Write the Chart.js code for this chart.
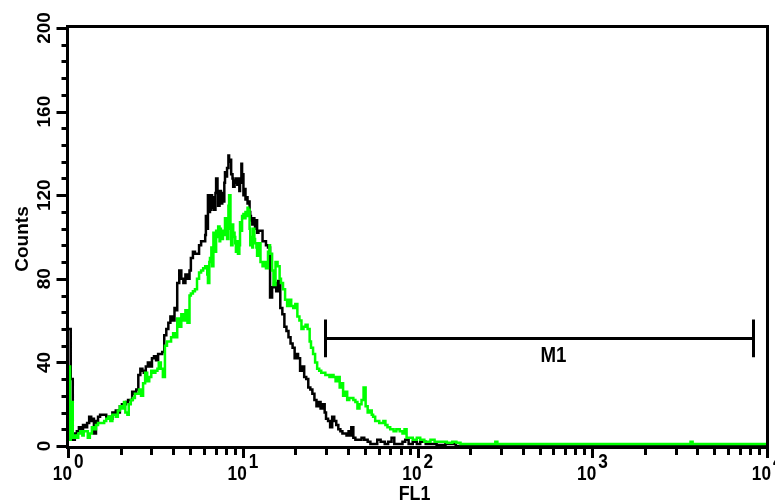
<!DOCTYPE html>
<html>
<head>
<meta charset="utf-8">
<script src="https://cdn.jsdelivr.net/npm/chart.js@4.4.0/dist/chart.umd.min.js"></script>
<style>
html,body{margin:0;padding:0;background:#fff;overflow:hidden;}
canvas{display:block;}
</style>
</head>
<body>
<canvas id="c" width="775" height="502"></canvas>
<script>
// ---- Data ----
const channelsPerDecade = 256;          // 1024 channels over 4 log decades
const xDecades = [0, 1, 2, 3, 4];
const xTickBase = ['10', '10', '10', '10', '10'];
const xTickExp = ['0', '1', '2', '3', '4'];
const yTickValues = [0, 40, 80, 120, 160, 200];
const yTickLabels = ['0', '40', '80', '120', '160', '200'];
const yMinorStep = 8;
const xAxisLabel = 'FL1';
const yAxisLabel = 'Counts';
const markerLabel = 'M1';
const markerRange = [29.6, 8320];
const markerLevel = 51.5;

const blackChannel = [
  0,4,7,10,13,16,19,22,25,28,
  31,34,37,38,41,44,47,50,53,56,
  59,62,65,67,70,73,76,79,82,85,
  88,91,94,97,100,103,106,109,111,114,
  117,120,123,126,129,132,135,138,141,144,
  147,150,153,156,158,160,163,166,169,172,
  175,178,180,183,186,189,192,195,198,201,
  202,204,205,207,208,210,211,213,214,216,
  217,219,220,222,223,224,226,227,229,230,
  232,233,235,236,238,239,241,242,244,245,
  246,248,249,251,252,254,255,257,258,260,
  261,263,264,266,267,268,270,271,273,274,
  276,277,279,282,285,288,290,293,296,299,
  302,305,308,311,314,317,320,323,326,329,
  332,334,337,340,343,346,349,352,355,358,
  361,364,367,370,373,376,378,381,384,387,
  390,393,396,399,402,405,408,411,414,415,
  418,421,425,430,434,439,443,449,453,458,
  464,469,474,478,484,490,494,499,505,511,
  516,524,531,540,553,568,1024
];
const blackCounts = [
  56,32,3,6,7,9,8,10,9,11,
  14,12,13,6,12,14,15,15,15,14,
  14,13,16,15,17,16,19,20,20,21,
  22,22,26,25,27,34,37,36,35,38,
  40,38,42,43,41,44,44,45,53,56,
  59,62,60,66,65,78,84,80,78,82,
  80,84,90,93,92,92,96,98,98,101,
  110,104,120,112,113,120,114,119,113,121,
  128,122,115,117,122,116,121,117,126,131,
  129,133,139,136,137,130,128,124,127,126,
  128,125,128,122,126,135,130,120,123,118,
  119,116,117,112,110,108,106,109,106,104,
  108,102,103,103,98,98,96,95,71,76,
  78,74,79,66,63,57,55,52,49,47,
  42,44,42,36,38,33,32,28,27,25,
  22,19,21,18,20,16,13,12,9,14,
  12,10,8,7,6,6,5,7,5,9,
  4,3,3,4,3,2,1,1,3,2,
  1,2,4,1,1,2,3,1,2,1,
  2,1,1,0.5,1,0,0
];

const greenChannel = [
  0,3,4,7,9,12,15,18,21,23,
  26,29,32,35,38,41,44,47,50,53,
  56,59,62,65,67,70,73,76,79,82,
  84,87,89,92,95,98,101,104,107,110,
  113,116,119,122,125,128,131,133,136,139,
  142,145,148,151,154,157,160,163,166,169,
  172,175,178,180,183,186,189,192,195,198,
  201,204,205,207,208,210,211,213,214,216,
  217,219,220,222,223,224,226,227,229,230,
  232,233,235,236,238,239,241,242,244,245,
  246,248,249,251,252,254,255,257,258,260,
  261,263,264,266,267,268,270,271,273,274,
  276,277,279,282,285,288,290,293,295,296,
  299,301,304,307,310,312,315,318,321,324,
  327,330,333,336,339,342,345,348,351,354,
  356,359,362,365,368,371,374,377,380,383,
  386,389,392,395,398,400,403,406,409,412,
  415,418,421,424,427,430,433,436,439,442,
  445,447,450,453,456,459,462,465,468,472,
  477,481,486,490,493,496,500,505,511,516,
  522,527,531,537,546,555,563,569,575,626,
  629,912,915,1024
];
const greenCounts = [
  38,3,21,4,5,4,6,7,5,7,
  7,4,6,9,8,10,11,11,11,12,
  13,14,12,15,15,14,17,19,18,21,
  16,15,20,22,23,25,25,27,24,30,
  35,31,33,36,35,36,37,40,37,33,
  48,50,50,52,54,52,61,57,63,60,
  65,59,72,73,74,75,80,83,84,85,
  86,82,78,88,90,95,86,102,97,93,
  103,100,105,98,104,101,99,103,101,109,
  103,99,115,120,104,96,106,102,100,97,
  93,98,92,96,107,103,110,111,109,112,
  110,114,113,104,96,100,95,104,99,97,
  95,91,97,88,86,88,85,93,96,92,
  84,77,88,86,80,78,75,70,67,70,
  67,66,68,62,60,56,57,58,56,50,
  47,44,40,37,36,35,35,34,34,33,
  34,33,31,33,28,30,24,26,22,23,
  23,22,21,18,20,22,28,19,16,17,
  15,14,12,12,11,11,12,10,9,8,
  7,8,7,6,8,4,4,3,4,3,
  2,2,3,2,2,1.5,2,1.5,1,2,
  1,2,1,1
];

function toPoints(channels, counts) {
  return channels.map((ch, i) => ({ x: Math.pow(10, ch / channelsPerDecade), y: counts[i] }));
}

const FONT = '"Liberation Sans", Arial, sans-serif';

const facsPlugin = {
  id: 'facsAxes',
  afterDraw(chart) {
    const c = chart.ctx, a = chart.chartArea, xs = chart.scales.x, ys = chart.scales.y;
    c.save();
    c.strokeStyle = '#000';
    c.fillStyle = '#000';
    c.lineWidth = 3;
    c.lineCap = 'butt';
    const L = a.left - 0.5, R = a.right + 0.5, T = a.top - 1.5, B = a.bottom + 1.5;
    // frame
    c.beginPath();
    c.moveTo(L, B); c.lineTo(L, T); c.lineTo(R, T); c.lineTo(R, B); c.closePath();
    c.stroke();

    // y ticks
    for (let v = 0; v <= 200; v += yMinorStep) {
      const py = Math.round(ys.getPixelForValue(v)) + 0.5;
      const major = yTickValues.includes(v);
      c.beginPath();
      c.moveTo(major ? L - 11 : L - 6, py);
      c.lineTo(L, py);
      c.stroke();
    }
    // y tick labels (rotated)
    c.font = 'bold 19px ' + FONT;
    c.textAlign = 'center';
    c.textBaseline = 'alphabetic';
    yTickValues.forEach((v, i) => {
      const py = ys.getPixelForValue(v);
      c.save();
      c.translate(50, py);
      c.rotate(-Math.PI / 2);
      c.fillText(yTickLabels[i], 0, 0);
      c.restore();
    });
    // y title
    c.save();
    c.translate(28, (a.top + a.bottom) / 2 + 2);
    c.rotate(-Math.PI / 2);
    c.font = 'bold 19px ' + FONT;
    c.textAlign = 'center';
    c.fillText(yAxisLabel, 0, 0);
    c.restore();

    // x ticks
    xDecades.forEach(k => {
      const px = Math.round(xs.getPixelForValue(Math.pow(10, k))) + 0.5;
      c.beginPath(); c.moveTo(px, B); c.lineTo(px, 458); c.stroke();
      if (k < 4) {
        for (let m = 2; m <= 9; m++) {
          const pm = Math.round(xs.getPixelForValue(m * Math.pow(10, k))) + 0.5;
          c.beginPath(); c.moveTo(pm, B); c.lineTo(pm, 455); c.stroke();
        }
      }
    });
    // x tick labels 10^k
    c.font = 'bold 21px ' + FONT;
    xDecades.forEach((k, i) => {
      const px = xs.getPixelForValue(Math.pow(10, k));
      c.save();
      c.translate(px, 0);
      c.scale(0.82, 1);
      c.textAlign = 'right';
      c.fillText(xTickBase[i], 4 / 0.82, 480);
      c.textAlign = 'left';
      c.fillText(xTickExp[i], 6 / 0.82, 468);
      c.restore();
    });
    // x title
    c.save();
    c.translate((a.left + a.right) / 2 - 3, 0);
    c.scale(0.85, 1);
    c.font = 'bold 21px ' + FONT;
    c.textAlign = 'center';
    c.fillText(xAxisLabel, 0, 500);
    c.restore();

    // M1 marker
    const x1 = Math.round(xs.getPixelForValue(markerRange[0])) + 0.5;
    const x2 = Math.round(xs.getPixelForValue(markerRange[1])) + 0.5;
    const ym = Math.round(ys.getPixelForValue(markerLevel)) + 0.5;
    const yTop = ys.getPixelForValue(markerLevel + 9);
    const yBot = ys.getPixelForValue(markerLevel - 9);
    c.beginPath();
    c.moveTo(x1, ym); c.lineTo(x2, ym);
    c.moveTo(x1, yTop); c.lineTo(x1, yBot);
    c.moveTo(x2, yTop); c.lineTo(x2, yBot);
    c.stroke();
    c.save();
    c.translate((x1 + x2) / 2 + 14, 0);
    c.scale(0.85, 1);
    c.font = 'bold 22px ' + FONT;
    c.textAlign = 'center';
    c.fillText(markerLabel, 0, 362);
    c.restore();

    c.restore();
  }
};

new Chart(document.getElementById('c'), {
  type: 'line',
  data: {
    datasets: [
      {
        label: 'Sample',
        data: toPoints(greenChannel, greenCounts),
        borderColor: '#00ff00',
        borderWidth: 2.5,
        pointRadius: 0,
        stepped: true,
        fill: false,
        order: 0
      },
      {
        label: 'Control',
        data: toPoints(blackChannel, blackCounts),
        borderColor: '#000000',
        borderWidth: 2.5,
        pointRadius: 0,
        stepped: true,
        fill: false,
        order: 1
      }
    ]
  },
  options: {
    responsive: false,
    animation: false,
    devicePixelRatio: 1,
    layout: { padding: { top: 28, right: 8, left: 0, bottom: 0 } },
    plugins: { legend: { display: false }, tooltip: { enabled: false } },
    scales: {
      x: {
        type: 'logarithmic', min: 1, max: 10000,
        grid: { display: false }, border: { display: false },
        ticks: { display: false },
        afterFit(s) { s.height = 56; }
      },
      y: {
        type: 'linear', min: 0, max: 200,
        grid: { display: false }, border: { display: false },
        ticks: { display: false },
        afterFit(s) { s.width = 68; }
      }
    }
  },
  plugins: [facsPlugin]
});
</script>
</body>
</html>
